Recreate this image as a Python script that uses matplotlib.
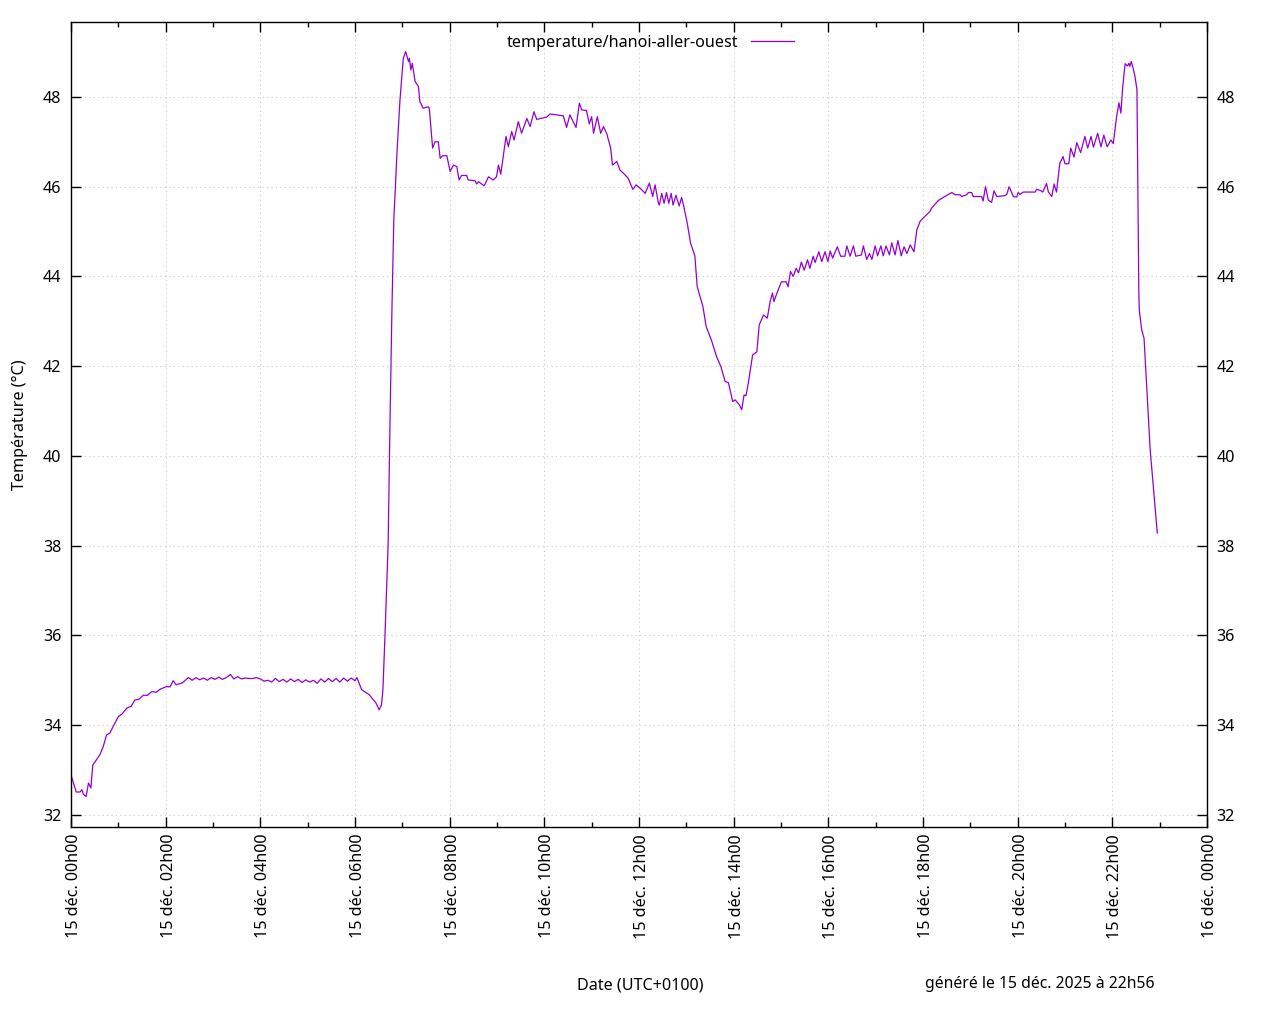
import matplotlib
matplotlib.use("Agg")
import matplotlib.pyplot as plt
import matplotlib.dates as mdates
import matplotlib.transforms as mtransforms
import numpy as np
import pandas as pd

# heures écoulées depuis le 15 déc. 2025 00h00
heures = [
    0.00, 0.11, 0.19, 0.23, 0.26, 0.32, 0.37, 0.42, 0.46, 0.61, 0.68, 0.75,
    0.82, 0.89, 1.00, 1.08, 1.18, 1.27, 1.35, 1.44, 1.53, 1.61, 1.71, 1.80,
    1.88, 2.02, 2.09, 2.16, 2.22, 2.35, 2.48,
    2.56, 2.64, 2.72, 2.80, 2.88, 2.96, 3.04, 3.12, 3.20, 3.28, 3.37, 3.44,
    3.52, 3.60, 3.68, 3.76, 3.84, 3.92, 4.00, 4.08, 4.16, 4.24, 4.32, 4.40,
    4.48, 4.56, 4.64, 4.72, 4.80, 4.88, 4.96, 5.04, 5.12, 5.20, 5.28, 5.36,
    5.44, 5.52, 5.60, 5.68, 5.76, 5.84, 5.92, 6.00, 6.04,
    6.14, 6.21, 6.30, 6.39, 6.44, 6.51, 6.56, 6.59, 6.63, 6.70, 6.74, 6.78,
    6.82, 6.89, 6.95, 7.02,
    7.07, 7.09, 7.13, 7.15, 7.18, 7.21, 7.23, 7.27, 7.30, 7.34, 7.37, 7.44,
    7.55, 7.57, 7.64, 7.69, 7.76, 7.80, 7.85, 7.94, 8.01, 8.08, 8.15, 8.20,
    8.25, 8.36, 8.39, 8.54, 8.57, 8.61, 8.73, 8.82, 8.92, 8.99, 9.03, 9.08,
    9.13, 9.19, 9.24, 9.31, 9.36, 9.45, 9.52, 9.63, 9.70, 9.78, 9.84, 10.05,
    10.12, 10.40, 10.47, 10.54, 10.67, 10.74, 10.79, 10.89, 10.95, 11.00,
    11.04, 11.12, 11.19, 11.25, 11.32, 11.40, 11.44, 11.53, 11.60, 11.67,
    11.77, 11.87, 11.94, 12.06, 12.13, 12.22, 12.29, 12.34, 12.41,
    12.43, 12.48, 12.53, 12.58, 12.63, 12.68, 12.72, 12.78, 12.85, 12.90,
    12.94, 13.02, 13.09, 13.18, 13.23, 13.35, 13.42, 13.53, 13.64, 13.73,
    13.82, 13.89, 13.98, 14.03, 14.12, 14.17, 14.22, 14.26, 14.31, 14.40,
    14.49, 14.54, 14.63, 14.71, 14.77, 14.82, 14.85, 14.94, 15.01, 15.11,
    15.15, 15.20, 15.26, 15.32, 15.37, 15.43, 15.49, 15.56, 15.61, 15.68,
    15.72, 15.80, 15.86, 15.93, 15.99, 16.04, 16.09, 16.19, 16.26, 16.35,
    16.39, 16.46, 16.53, 16.58, 16.70, 16.74, 16.81, 16.87, 16.92, 16.99,
    17.04, 17.11, 17.16, 17.22, 17.29, 17.34, 17.41, 17.47, 17.54, 17.60,
    17.66, 17.73, 17.81, 17.87, 17.94, 18.04, 18.15,
    18.18, 18.32, 18.46, 18.61, 18.68, 18.78, 18.82, 18.92, 18.96, 19.03,
    19.06, 19.24, 19.27, 19.32, 19.38, 19.45, 19.50, 19.56, 19.73, 19.77,
    19.82, 19.91, 19.98, 20.01, 20.05, 20.12, 20.37, 20.40, 20.47, 20.53,
    20.61, 20.65, 20.72, 20.77, 20.82, 20.89, 20.96, 21.00, 21.08, 21.12,
    21.19, 21.25, 21.33, 21.42, 21.48, 21.55, 21.60, 21.69, 21.76, 21.82,
    21.89, 21.97, 22.02, 22.09, 22.14, 22.18, 22.22, 22.27, 22.32, 22.35,
    22.37, 22.40, 22.44, 22.48, 22.52, 22.55, 22.56, 22.57, 22.62, 22.67,
    22.80, 22.95,
]

temperatures = [
    32.89, 32.51, 32.51, 32.56, 32.46, 32.41, 32.71, 32.60, 33.11, 33.34, 33.52, 33.78,
    33.82, 33.97, 34.19, 34.25, 34.38, 34.42, 34.56, 34.58, 34.67, 34.66, 34.75, 34.73,
    34.80, 34.86, 34.85, 34.99, 34.90, 34.94, 35.06,
    35.00, 35.06, 35.01, 35.05, 35.00, 35.06, 35.02, 35.07, 35.02, 35.06, 35.13, 35.03,
    35.08, 35.03, 35.05, 35.04, 35.04, 35.06, 35.03, 34.98, 35.00, 34.96, 35.04, 34.97,
    35.02, 34.96, 35.03, 34.97, 35.02, 34.95, 35.01, 34.96, 35.00, 34.93, 35.03, 34.96,
    35.04, 34.97, 35.04, 34.96, 35.05, 34.98, 35.05, 34.99, 35.06,
    34.79, 34.74, 34.68, 34.56, 34.50, 34.34, 34.45, 34.79, 35.90, 38.02, 40.80, 43.25,
    45.26, 46.82, 47.93, 48.86,
    49.01, 48.94, 48.79, 48.86, 48.60, 48.75, 48.62, 48.34, 48.30, 48.23, 47.90, 47.75,
    47.78, 47.75, 46.86, 47.00, 47.00, 46.63, 46.69, 46.69, 46.34, 46.48, 46.45, 46.15,
    46.25, 46.25, 46.15, 46.13, 46.06, 46.11, 46.02, 46.22, 46.15, 46.22, 46.48, 46.28,
    46.67, 47.12, 46.89, 47.23, 47.04, 47.45, 47.19, 47.52, 47.34, 47.67, 47.50, 47.55,
    47.62, 47.58, 47.32, 47.60, 47.32, 47.86, 47.71, 47.70, 47.40, 47.56,
    47.19, 47.56, 47.19, 47.34, 47.18, 46.86, 46.48, 46.56, 46.37, 46.30,
    46.19, 45.94, 46.04, 45.93, 45.85, 46.08, 45.78, 46.04, 45.63,
    45.59, 45.85, 45.63, 45.87, 45.63, 45.85, 45.59, 45.81, 45.57, 45.76,
    45.59, 45.18, 44.74, 44.46, 43.77, 43.33, 42.88, 42.58, 42.21, 41.99,
    41.66, 41.63, 41.21, 41.25, 41.14, 41.03, 41.36, 41.34, 41.62, 42.25,
    42.32, 42.92, 43.14, 43.07, 43.44, 43.63, 43.44, 43.70, 43.88, 43.88,
    43.77, 44.11, 44.00, 44.18, 44.08, 44.32, 44.14, 44.37, 44.18, 44.45,
    44.31, 44.55, 44.33, 44.55, 44.33, 44.57, 44.41, 44.66, 44.45, 44.45,
    44.68, 44.45, 44.68, 44.45, 44.48, 44.68, 44.38, 44.51, 44.38, 44.68,
    44.46, 44.68, 44.46, 44.68, 44.48, 44.75, 44.48, 44.80, 44.46, 44.66,
    44.51, 44.70, 44.55, 45.04, 45.23, 45.34, 45.45,
    45.52, 45.69, 45.78, 45.87, 45.82, 45.82, 45.78, 45.82, 45.87, 45.87,
    45.78, 45.78, 45.68, 46.00, 45.70, 45.65, 45.91, 45.78, 45.80, 45.83,
    46.00, 45.78, 45.77, 45.87, 45.83, 45.88, 45.88, 45.94, 45.92, 45.88,
    46.07, 45.88, 45.78, 46.06, 45.88, 46.52, 46.67, 46.51, 46.51, 46.86,
    46.66, 46.98, 46.76, 47.12, 46.86, 47.12, 46.88, 47.19, 46.89, 47.15,
    46.89, 47.04, 46.96, 47.56, 47.87, 47.64, 48.23, 48.74, 48.69, 48.75,
    48.68, 48.79, 48.64, 48.45, 48.16, 44.59, 43.60, 43.25, 42.81, 42.62,
    40.13, 38.28,
]

serie = "temperature/hanoi-aller-ouest"
titre_y = "Température (°C)"
titre_x = "Date (UTC+0100)"
mention = "généré le 15 déc. 2025 à 22h56"
y_ticks = [32, 34, 36, 38, 40, 42, 44, 46, 48]

plt.rcParams['font.family'] = ['Noto Sans', 'DejaVu Sans']
taille = 11.6

debut = pd.Timestamp("2025-12-15 00:00")
fin = pd.Timestamp("2025-12-16 00:00")
dates = debut + pd.to_timedelta(heures, unit='h')

fig = plt.figure(figsize=(12.8, 10.24), dpi=100)
ax = fig.add_axes([71 / 1280, 1 - 827 / 1024, 1136 / 1280, 805 / 1024])

ax.plot(dates, temperatures, color='#9400d3', linewidth=0.9, label=serie)

ax.set_xlim(debut, fin)
ax.set_ylim(31.73, 49.67)
ax.set_yticks(y_ticks)

ax.xaxis.set_major_locator(mdates.HourLocator(byhour=range(0, 24, 2)))
ax.xaxis.set_minor_locator(mdates.HourLocator(byhour=range(1, 24, 2)))


def format_date(x, pos=None):
    d = mdates.num2date(x)
    return f"{d.day} déc. {d.hour:02d}h{d.minute:02d}"


ax.xaxis.set_major_formatter(plt.FuncFormatter(format_date))

ax.tick_params(axis='both', which='both', direction='in', top=True, right=True,
               labelsize=taille, width=1, color='black')
ax.tick_params(axis='both', which='major', length=7)
ax.tick_params(axis='both', which='minor', length=3.5)
ax.tick_params(axis='y', labelright=True, pad=7)
ax.tick_params(axis='x', labelrotation=90, pad=5)

# petit décalage des étiquettes verticales pour les centrer sur les graduations
decalage = mtransforms.ScaledTranslation(3 / 100, 0, fig.dpi_scale_trans)
for lab in ax.get_xticklabels():
    lab.set_transform(lab.get_transform() + decalage)

for s in ax.spines.values():
    s.set_linewidth(1)

ax.grid(True, which='major', color='#c8c8c8', linestyle=(0, (1, 3)), linewidth=0.8)

ax.set_ylabel(titre_y, fontsize=taille)
ax.yaxis.set_label_coords(-0.038, 0.5)

fig.text(640 / 1280, 1 - 986 / 1024, titre_x, ha='center', va='center', fontsize=taille)
fig.text(1040 / 1280, 1 - 984 / 1024, mention, ha='center', va='center', fontsize=11.3)

ax.legend(loc='upper center', bbox_to_anchor=(0.51, 1.0), frameon=False,
          markerfirst=False, fontsize=taille, handlelength=2.7, borderaxespad=0.4)

fig.savefig("out.png", dpi=100)
